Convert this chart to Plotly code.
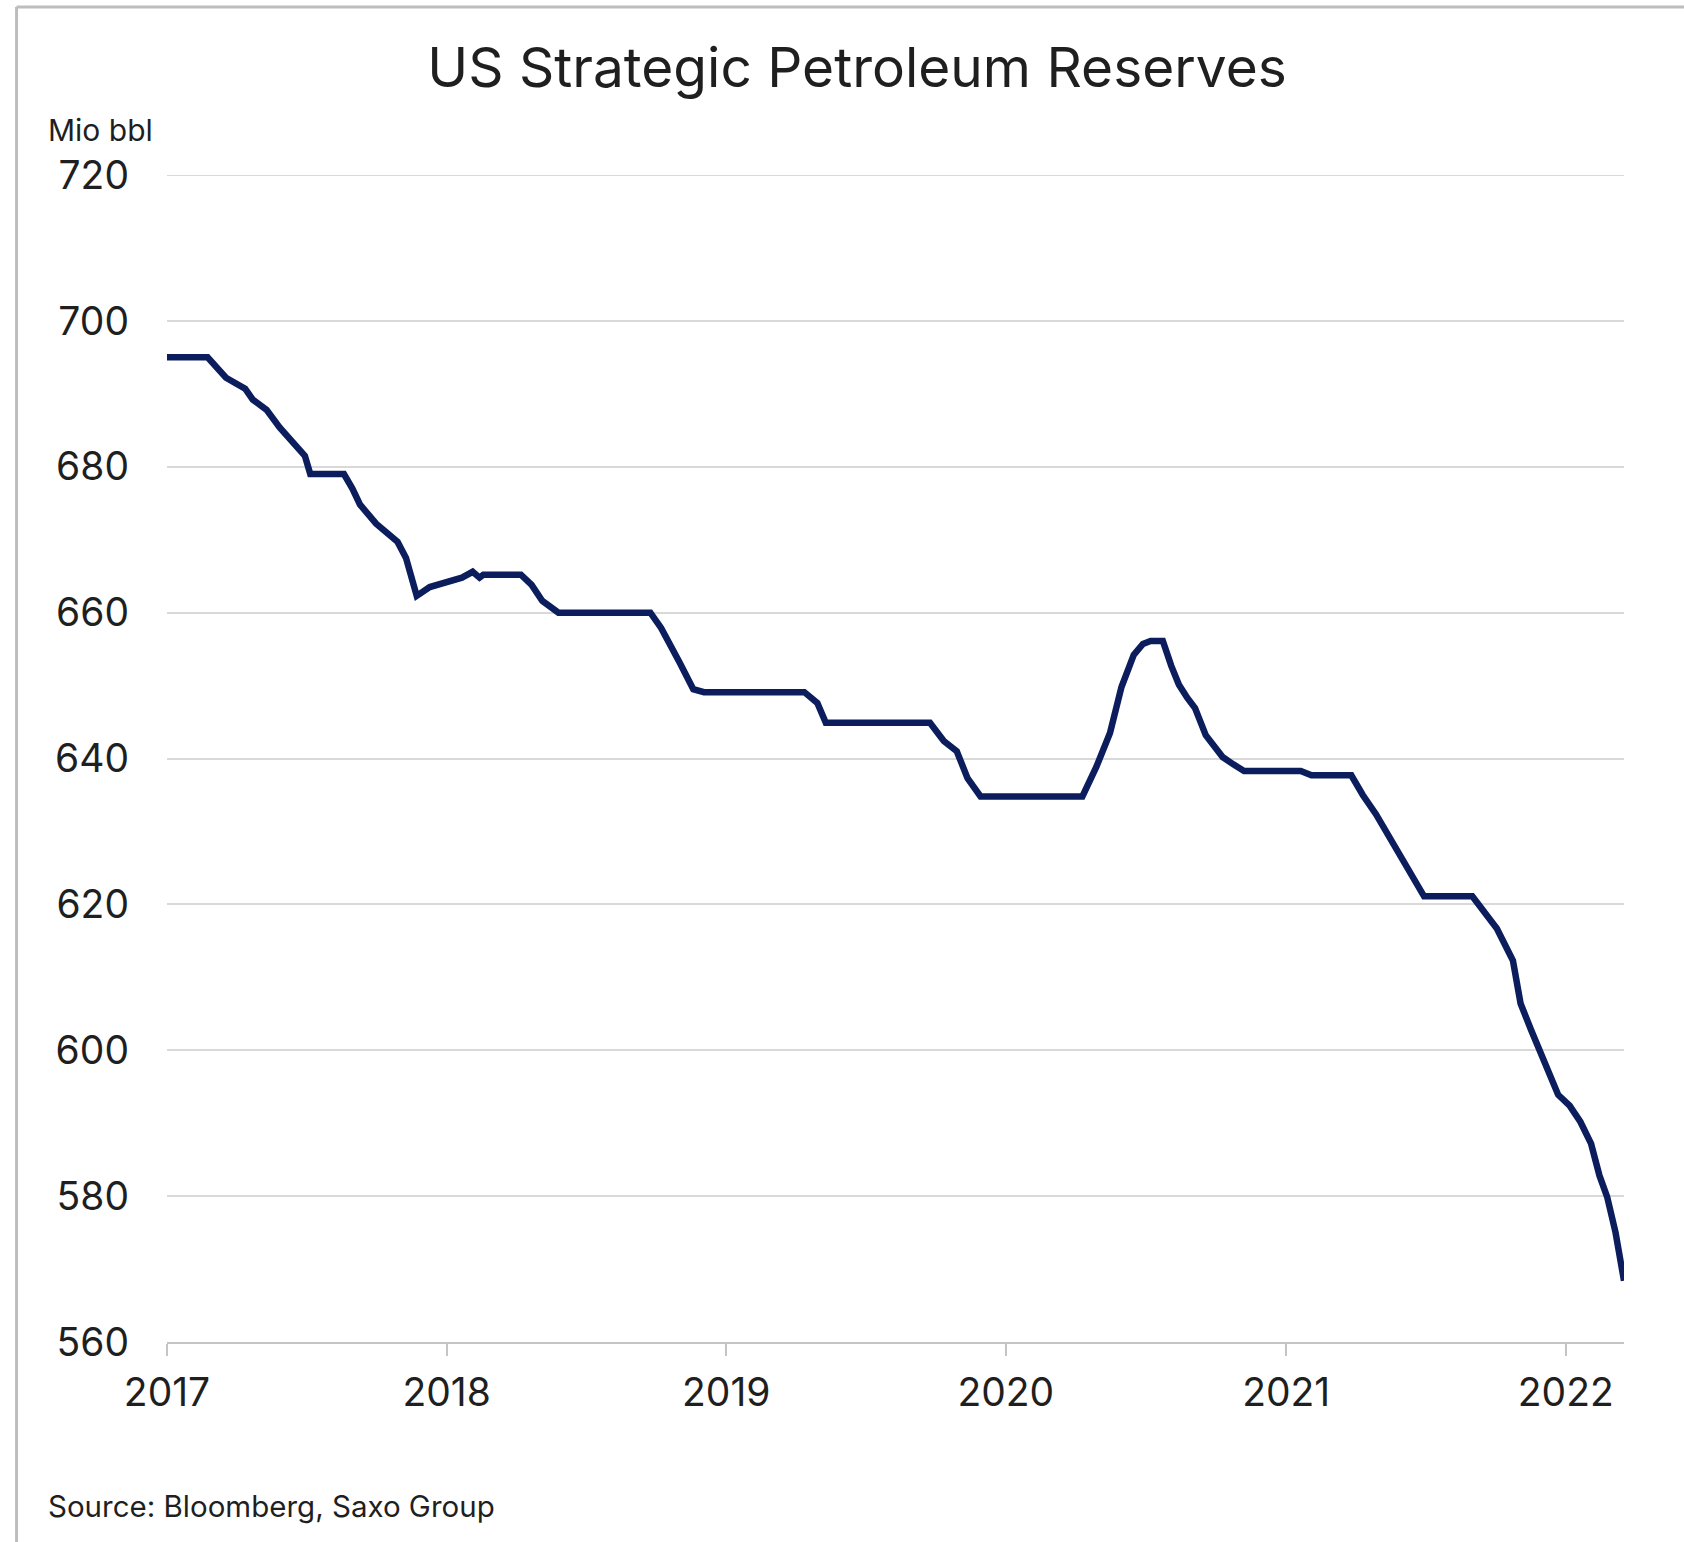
import plotly.graph_objects as go

# ---- data ----
dates = [
    "2017-01-01", "2017-02-23", "2017-03-19", "2017-04-13", "2017-04-23", "2017-05-11",
    "2017-05-28", "2017-06-11", "2017-06-25", "2017-06-30", "2017-07-07", "2017-08-20",
    "2017-08-31", "2017-09-10", "2017-10-01", "2017-10-29", "2017-11-09", "2017-11-23",
    "2017-12-10", "2018-01-01", "2018-01-21", "2018-02-04", "2018-02-13", "2018-02-18",
    "2018-04-08", "2018-04-22", "2018-05-06", "2018-05-27", "2018-09-24", "2018-10-08",
    "2018-10-22", "2018-11-01", "2018-11-19", "2018-12-03", "2019-04-13", "2019-04-30",
    "2019-05-11", "2019-09-24", "2019-10-12", "2019-10-29", "2019-11-12", "2019-11-29",
    "2020-04-10", "2020-04-28", "2020-05-16", "2020-05-31", "2020-06-16", "2020-06-28",
    "2020-07-08", "2020-07-24", "2020-08-04", "2020-08-14", "2020-08-25", "2020-09-04",
    "2020-09-18", "2020-10-10", "2020-10-24", "2020-11-07", "2021-01-20", "2021-02-03",
    "2021-03-27", "2021-04-11", "2021-04-28", "2021-05-12", "2021-05-23", "2021-06-02",
    "2021-06-16", "2021-06-30", "2021-09-01", "2021-09-15", "2021-10-03", "2021-10-24",
    "2021-11-03", "2021-11-17", "2021-12-08", "2021-12-22", "2022-01-06", "2022-01-20",
    "2022-02-03", "2022-02-14", "2022-02-24", "2022-03-07", "2022-03-18",
]
reserves = [
    695.0, 695.0, 692.2, 690.7, 689.2, 687.8,
    685.4, 683.6, 681.9, 681.5, 679.0, 679.0,
    677.0, 674.8, 672.2, 669.7, 667.5, 662.3,
    663.5, 664.1, 664.8, 665.6, 664.8, 665.2,
    665.2, 663.8, 661.6, 660.0, 660.0, 657.9,
    654.9, 653.2, 649.5, 649.1, 649.1, 647.6,
    644.9, 644.9, 642.4, 641.0, 637.3, 634.8,
    634.8, 638.8, 643.5, 649.8, 654.2, 655.7,
    656.1, 656.1, 652.7, 650.1, 648.3, 646.9,
    643.2, 640.2, 639.2, 638.3, 638.3, 637.7,
    637.7, 635.0, 632.4, 629.9, 627.7, 626.2,
    623.3, 621.1, 621.1, 619.2, 616.7, 612.3,
    606.4, 602.7, 597.5, 593.9, 592.4, 590.2,
    587.2, 582.8, 579.9, 575.0, 568.4,
]
year_ticks = ["2017-01-01", "2018-01-01", "2019-01-01", "2020-01-01", "2021-01-01", "2022-01-01"]
year_labels = ["2017", "2018", "2019", "2020", "2021", "2022"]
y_ticks = [560, 580, 600, 620, 640, 660, 680, 700, 720]

title_text = "US Strategic Petroleum Reserves"
unit_text = "Mio bbl"
source_text = "Source: Bloomberg, Saxo Group"

# ---- layout geometry ----
W, H = 1684, 1542
L, R, T, B = 166.5, 60, 175, 199.5
pw, ph = W - L - R, H - T - B

def px_x(p):
    return (p - L) / pw

def px_y(p):
    return (H - B - p) / ph

FONT = "Inter"
TXT = "#1f1f1f"
GRID = "#d9d9d9"

fig = go.Figure()
fig.add_trace(go.Scatter(
    x=dates, y=reserves, mode="lines",
    line=dict(color="#0b1d5c", width=6.5, shape="linear"),
    hoverinfo="x+y", showlegend=False,
))

fig.update_layout(
    width=W, height=H,
    margin=dict(l=L, r=R, t=T, b=B),
    paper_bgcolor="white", plot_bgcolor="white",
    font=dict(family=FONT, color=TXT),
    title=dict(text=title_text, x=857 / W, xanchor="center",
               y=1 - 68 / H, yanchor="middle",
               font=dict(family=FONT, size=55, color=TXT)),
    xaxis=dict(
        type="date", range=["2017-01-01", "2022-03-18"],
        tickvals=year_ticks, ticktext=year_labels,
        showgrid=False, zeroline=False,
        showline=True, linecolor="#c4c4c4", linewidth=2,
        ticks="outside", ticklen=12, tickwidth=2, tickcolor="#c4c4c4",
        tickfont=dict(family=FONT, size=39, color=TXT),
        ticklabelstandoff=3,
    ),
    yaxis=dict(
        range=[560, 720], tickvals=y_ticks,
        showgrid=True, gridcolor=GRID, gridwidth=2,
        zeroline=False, showline=False, ticks="",
        tickfont=dict(family=FONT, size=39, color=TXT),
        ticklabelstandoff=37,
    ),
    shapes=[
        # top gridline (at the 720 tick, which plotly skips at the range edge)
        dict(type="line", xref="paper", yref="y", layer="below",
             x0=0, x1=1, y0=y_ticks[-1], y1=y_ticks[-1],
             line=dict(color=GRID, width=2)),
        dict(type="line", xref="paper", yref="paper",
             x0=px_x(16), x1=px_x(16), y0=px_y(7), y1=px_y(H + 10),
             line=dict(color="#bdbdbd", width=3)),
        dict(type="line", xref="paper", yref="paper",
             x0=px_x(16), x1=px_x(W + 10), y0=px_y(7), y1=px_y(7),
             line=dict(color="#bdbdbd", width=3)),
    ],
    annotations=[
        dict(text=unit_text, xref="paper", yref="paper",
             x=px_x(45), y=px_y(130), xanchor="left", yanchor="middle",
             showarrow=False, font=dict(family=FONT, size=30, color=TXT)),
        dict(text=source_text, xref="paper", yref="paper",
             x=px_x(45), y=px_y(1507), xanchor="left", yanchor="middle",
             showarrow=False, font=dict(family=FONT, size=29.5, color=TXT)),
    ],
)

fig.write_html("out.html", config={"displayModeBar": False},
               post_script="document.body.style.margin='0px';")
